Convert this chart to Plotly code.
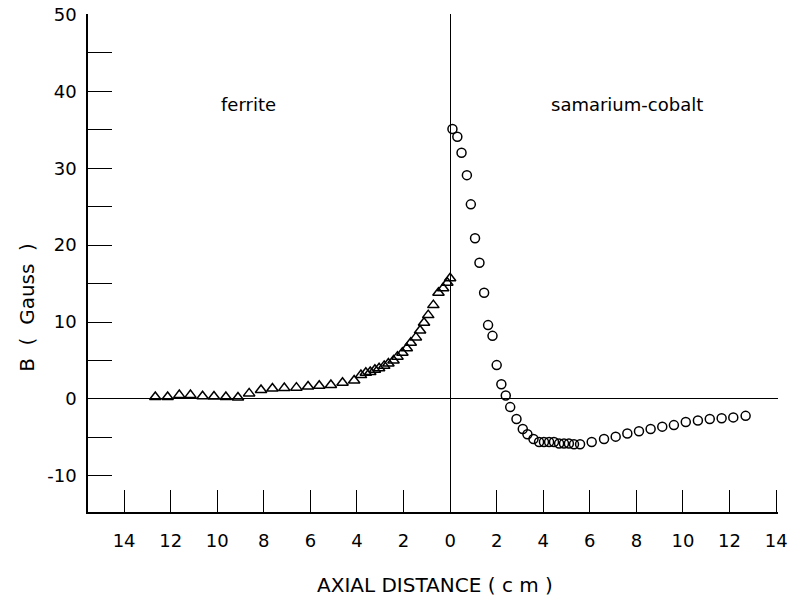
import plotly.graph_objects as go

# ferrite (left side, plotted at negative axial distance)
ferrite_x = [-12.66, -12.13, -11.63, -11.15, -10.63, -10.14, -9.63, -9.11, -8.63, -8.12,
             -7.63, -7.12, -6.60, -6.10, -5.62, -5.12, -4.62, -4.12,
             -3.83, -3.62, -3.43, -3.23, -3.05, -2.83, -2.65, -2.43, -2.26, -2.05,
             -1.86, -1.69, -1.47, -1.29, -1.12, -0.94, -0.72, -0.50, -0.30, -0.12, 0.0]
ferrite_b = [0.25, 0.26, 0.5, 0.5, 0.36, 0.32, 0.26, 0.18, 0.72, 1.16,
             1.36, 1.41, 1.47, 1.62, 1.72, 1.82, 2.1, 2.4,
             3.1, 3.4, 3.5, 3.8, 4.0, 4.3, 4.6, 5.0, 5.5, 6.0,
             6.6, 7.3, 8.0, 8.9, 9.9, 10.9, 12.2, 13.8, 14.4, 15.1, 15.7]

# samarium-cobalt (right side)
smco_x = [0.10, 0.31, 0.49, 0.72, 0.89, 1.07, 1.26, 1.46, 1.63, 1.82,
          2.00, 2.20, 2.39, 2.58, 2.85, 3.12, 3.32, 3.58, 3.82, 4.03,
          4.25, 4.46, 4.68, 4.89, 5.10, 5.32, 5.58, 6.08, 6.61, 7.11,
          7.61, 8.11, 8.61, 9.11, 9.61, 10.12, 10.64, 11.15, 11.66, 12.16, 12.69]
smco_b = [35.1, 34.1, 32.0, 29.1, 25.3, 20.9, 17.7, 13.8, 9.6, 8.2,
          4.4, 1.9, 0.45, -1.06, -2.6, -3.9, -4.6, -5.2, -5.6, -5.6,
          -5.6, -5.6, -5.8, -5.8, -5.8, -5.9, -5.9, -5.6, -5.2, -4.9,
          -4.5, -4.2, -3.9, -3.6, -3.4, -3.0, -2.8, -2.6, -2.5, -2.4, -2.2]

x_tickvals = [-14, -12, -10, -8, -6, -4, -2, 0, 2, 4, 6, 8, 10, 12, 14]
x_ticktext = ["14", "12", "10", "8", "6", "4", "2", "0", "2", "4", "6", "8", "10", "12", "14"]
y_tickvals = [-10, -5, 0, 5, 10, 15, 20, 25, 30, 35, 40, 45, 50]
y_ticktext = ["-10", "", "0", "", "10", "", "20", "", "30", "", "40", "", "50"]

FONT = "DejaVu Sans"

fig = go.Figure()
fig.add_trace(go.Scatter(
    x=ferrite_x, y=ferrite_b, mode="markers", name="ferrite",
    marker=dict(symbol="triangle-up-open", size=10, color="black", line=dict(width=1.5, color="black")),
))
fig.add_trace(go.Scatter(
    x=smco_x, y=smco_b, mode="markers", name="samarium-cobalt",
    marker=dict(symbol="circle-open", size=9, color="black", line=dict(width=1.5, color="black")),
))

fig.update_layout(
    width=788, height=599,
    margin=dict(l=88, r=10, t=14, b=87, autoexpand=False),
    paper_bgcolor="white", plot_bgcolor="white",
    showlegend=False,
    font=dict(family=FONT, size=18, color="black"),
    xaxis=dict(
        range=[-15.55, 14.08], tickvals=x_tickvals, ticktext=x_ticktext,
        ticks="inside", ticklen=22, tickwidth=1.3, tickcolor="black",
        showline=True, linecolor="black", linewidth=1.5, mirror=False,
        showgrid=False, zeroline=True, zerolinecolor="black", zerolinewidth=1.2,
        ticklabelstandoff=12, ticklabeloverflow="allow", automargin=False,
        tickfont=dict(family=FONT, size=18),
    ),
    yaxis=dict(
        range=[-14.7, 50.05], tickvals=y_tickvals, ticktext=y_ticktext,
        ticks="inside", ticklen=24, tickwidth=1.3, tickcolor="black",
        showline=True, linecolor="black", linewidth=1.5, mirror=False,
        showgrid=False, zeroline=True, zerolinecolor="black", zerolinewidth=1.2,
        ticklabelstandoff=6, ticklabeloverflow="allow", automargin=False,
        tickfont=dict(family=FONT, size=18),
    ),
    annotations=[
        dict(text="AXIAL DISTANCE ( c m )", xref="paper", yref="paper", x=0.503, y=-0.1466,
             showarrow=False, xanchor="center", yanchor="middle", font=dict(family=FONT, size=20)),
        dict(text="B  (  Gauss  )", xref="paper", yref="paper", x=-0.0884, y=0.41, textangle=-90,
             showarrow=False, xanchor="center", yanchor="middle", font=dict(family=FONT, size=20)),
        dict(text="ferrite", xref="paper", yref="paper", x=(248 - 88) / 690, y=(512 - 104) / 498,
             showarrow=False, xanchor="center", yanchor="middle", font=dict(family=FONT, size=18)),
        dict(text="samarium-cobalt", xref="paper", yref="paper", x=(627 - 88) / 690, y=(512 - 104) / 498,
             showarrow=False, xanchor="center", yanchor="middle", font=dict(family=FONT, size=18)),
    ],
)

fig.write_html("out.html")
